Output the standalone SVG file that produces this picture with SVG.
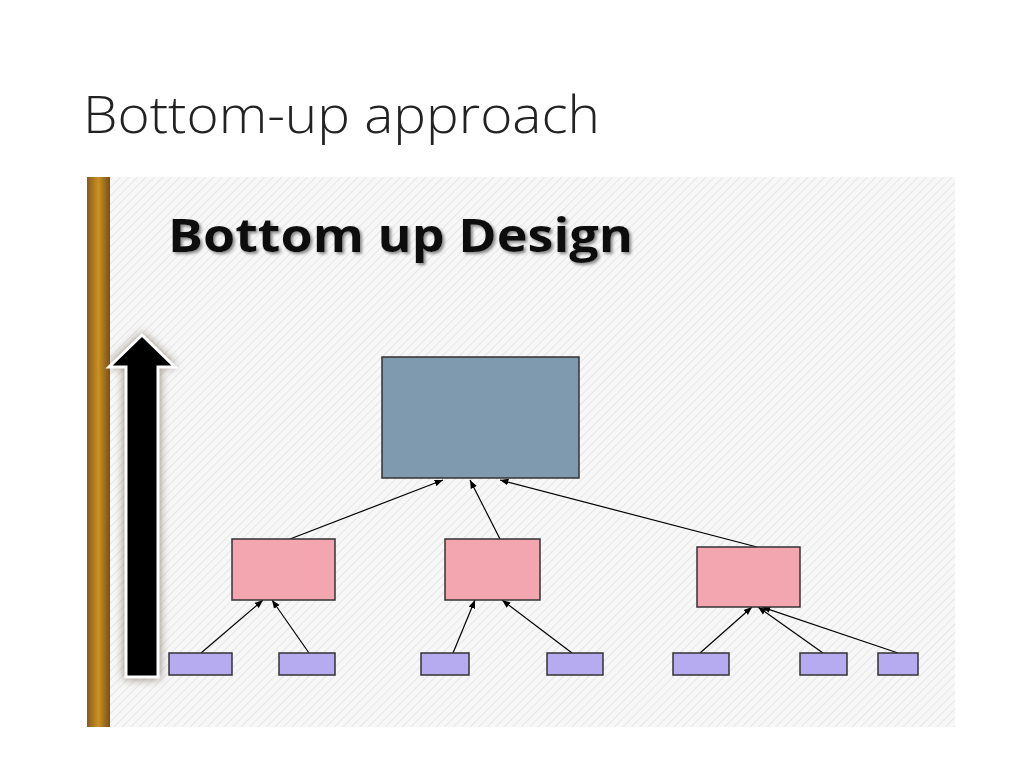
<svg xmlns="http://www.w3.org/2000/svg" width="1024" height="768" viewBox="0 0 1024 768">
<defs>
<pattern id="hatch" width="6" height="6" patternUnits="userSpaceOnUse" patternTransform="rotate(45)">
<rect width="6" height="6" fill="#f7f7f7"/><line x1="0" y1="0" x2="0" y2="6" stroke="#e6e6e6" stroke-width="2"/>
</pattern>
<linearGradient id="wood" x1="0" y1="0" x2="1" y2="0">
<stop offset="0" stop-color="#8a5a1c"/><stop offset="0.5" stop-color="#c99222"/><stop offset="1" stop-color="#7a4e18"/>
</linearGradient>
<filter id="glow" x="-50%" y="-10%" width="200%" height="120%"><feGaussianBlur stdDeviation="5"/></filter>
<filter id="ts"><feDropShadow dx="2" dy="2" stdDeviation="1.5" flood-color="#888"/></filter>
<marker id="ah" viewBox="0 0 10 10" refX="10" refY="5" markerWidth="7" markerHeight="7" orient="auto"><path d="M0,1 L10,5 L0,9 z" fill="#000"/></marker>
<style>
.e{stroke:#000;stroke-width:1.2;fill:none;marker-end:url(#ah)}
.p{fill:#f4a6b0;stroke:#333;stroke-width:1.5}
.l{fill:#b6aaf0;stroke:#333;stroke-width:1.5}
</style>
</defs>
<rect width="1024" height="768" fill="#fff"/>
<text x="83" y="133" font-family="Open Sans, Liberation Sans, sans-serif" font-weight="300" font-size="52" fill="#222" textLength="517" lengthAdjust="spacingAndGlyphs">Bottom-up approach</text>
<rect x="110" y="177" width="845" height="550" fill="url(#hatch)"/>
<rect x="87" y="177" width="23" height="550" fill="url(#wood)"/>
<text x="168" y="252" font-family="Open Sans, Liberation Sans, sans-serif" font-weight="bold" font-size="46" fill="#111" filter="url(#ts)" textLength="465" lengthAdjust="spacingAndGlyphs">Bottom up Design</text>
<g id="uparrow">
<path d="M142,333 L177,367 L160,367 L160,679 L124,679 L124,367 L107,367 Z" fill="#7a6a5a" filter="url(#glow)" opacity="0.8"/>
<path d="M142,335 L175,367 L158,367 L158,677 L126,677 L126,367 L109,367 Z" fill="#000" stroke="#fff" stroke-width="3"/>
</g>
<g id="connectors">
<line class="e" x1="290" y1="539" x2="443" y2="480"/>
<line class="e" x1="500" y1="539" x2="470" y2="480"/>
<line class="e" x1="757" y1="547" x2="500" y2="480"/>
<line class="e" x1="201" y1="653" x2="263" y2="600"/>
<line class="e" x1="309" y1="653" x2="272" y2="600"/>
<line class="e" x1="453" y1="653" x2="475" y2="600"/>
<line class="e" x1="572" y1="653" x2="502" y2="600"/>
<line class="e" x1="700" y1="653" x2="752" y2="607"/>
<line class="e" x1="823" y1="653" x2="758" y2="607"/>
<line class="e" x1="898" y1="653" x2="762" y2="607"/>
</g>
<g id="root"><rect x="382" y="357" width="197" height="121" fill="#7f9aae" stroke="#333" stroke-width="1.5"/></g>
<g id="m1"><rect class="p" x="232" y="539" width="103" height="61"/></g>
<g id="m2"><rect class="p" x="445" y="539" width="95" height="61"/></g>
<g id="m3"><rect class="p" x="697" y="547" width="103" height="60"/></g>
<g id="l1"><rect class="l" x="169" y="653" width="63" height="22"/></g>
<g id="l2"><rect class="l" x="279" y="653" width="56" height="22"/></g>
<g id="l3"><rect class="l" x="421" y="653" width="48" height="22"/></g>
<g id="l4"><rect class="l" x="547" y="653" width="56" height="22"/></g>
<g id="l5"><rect class="l" x="673" y="653" width="56" height="22"/></g>
<g id="l6"><rect class="l" x="800" y="653" width="47" height="22"/></g>
<g id="l7"><rect class="l" x="878" y="653" width="40" height="22"/></g>
</svg>
